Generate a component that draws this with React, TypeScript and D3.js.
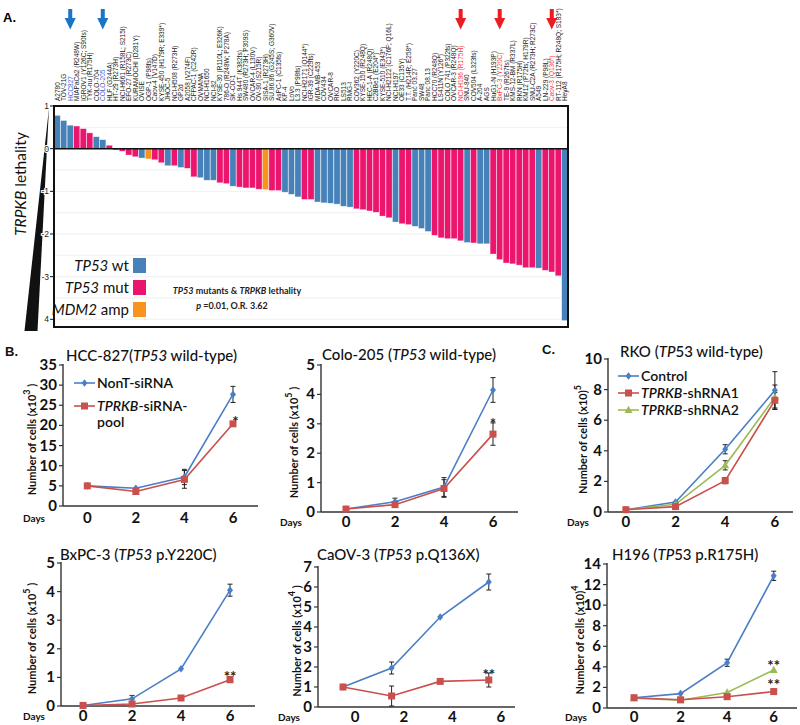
import React from 'react';
import * as d3 from 'd3';

// ---------- Panel A data ----------
const cellLines: string[] = [
  'A2780', 'TOV-21G', 'HCC827', 'MIAPaCa2 (R248W)', 'IGROV1 (Y126C; S90fs)', 'TYK-nu (R175H)', 'COLO-704', 'COLO-205',
  'HLF (G244A)', 'HT-29 (R273H)', 'NCI-H661 (R158L; S215I)', 'EFO-27 (R273C)', 'KURAMOCHI (D281Y)', 'OVISE', 'OGP-1 (P98fs)',
  'Caov-4 (V147D)', 'KYSE-450 (H179R; E339*)', 'JHOC-5', 'NCI-H508 (R273H)', 'GP2d', 'A2058 (V274F)', 'CFPAC-1 (C242R)',
  'OVMANA', 'NCI-H1650', 'NCI-82', 'KYSE-30 (R110L; E326K)', '786-O (R248W; P278A)', 'SK-CO-1', 'Hs 944T (K382fs)',
  'SW480 (R273H; P309S)', 'OVCAR-4 (L130V)', 'OV-90 (S215R)', 'SISA-1 (R273H)', 'SU.86.86 (G245S; G360V)', 'AsPC-1 (C135fs)',
  'KP-4', 'LoVo', 'L3.3 (P98fs)', 'NCI-H2171 (Q144*)', 'IGR-39 (C229fs)', 'MDA-MB-453', 'COV434', 'OVCAR-8', 'RKO', 'LS513',
  'RMG-I', 'COV362 (Y220C)', 'KYSE-150 (R248Q)', 'HEC-1-A (R248Q)', 'C2BBe1 (E204*)', 'KYSE-510 (E343*)',
  'NCI-H2122 (C176F; Q16L)', 'NCI-H197', 'OE33 (C135Y)', 'T.T. (H214R; E258*)', 'Panc 03.27', 'SW48', 'Panc 08.13',
  'HCC70 (R248Q)', 'LS411N (Y126*)', 'COLO 741 (P322fs)', 'OVCAR-3 (R248Q)', 'NCI-H196 (R175H)', 'SNU-840',
  'COV504 (L323fs)', 'A-204', 'AGS', 'HuG1-N (H193P)', 'BxPC-3 (Y220C)', 'TE-9 (R267fs)', 'KMS-12-BM (R337L)',
  'RKN (R175H)', 'KM12 (P72fs; H179R)', 'SNU-C2A (R273H; R273C)', 'A549', 'LN-229 (P98L)', 'Caov-3 (Q136*)',
  'RT-112 (R175H; R248Q; S183*)', 'HeyA8',
];

const lethality: number[] = [
  0.78, 0.66, 0.55, 0.53, 0.47, 0.37, 0.28, 0.21, 0.08,
  -0.03, -0.06, -0.15, -0.19, -0.22, -0.24, -0.26, -0.33, -0.40, -0.40, -0.44, -0.46,
  -0.66, -0.68, -0.74, -0.74, -0.80, -0.82, -0.88, -0.90, -0.92, -0.92, -0.95, -0.96, -0.98, -0.98,
  -1.02, -1.07, -1.13, -1.19, -1.19, -1.25, -1.27, -1.28, -1.30, -1.35, -1.37,
  -1.41, -1.43, -1.46, -1.49, -1.58, -1.62, -1.72,
  -1.76, -1.78, -1.82, -1.87, -1.94, -2.03, -2.09, -2.11, -2.11, -2.16, -2.20, -2.21, -2.23, -2.23,
  -2.47, -2.60, -2.68, -2.70, -2.73, -2.79, -2.79, -2.80, -2.85, -2.89, -2.98, -4.03,
];

// w = TP53 wt, m = TP53 mut, a = MDM2 amp
const tp53Status: string[] = [
  'w', 'w', 'w', 'm', 'm', 'm', 'w', 'w', 'm', 'm', 'm', 'm', 'm', 'w', 'a', 'm', 'm', 'w', 'm', 'w',
  'm', 'm', 'w', 'w', 'w', 'm', 'm', 'w', 'm', 'm', 'm', 'm', 'a', 'm', 'm', 'w', 'w', 'w', 'm', 'm',
  'w', 'w', 'w', 'w', 'w', 'w', 'm', 'm', 'm', 'm', 'm', 'm', 'w', 'm', 'm', 'w', 'w', 'w', 'm', 'm',
  'm', 'm', 'm', 'w', 'm', 'w', 'w', 'm', 'm', 'm', 'm', 'm', 'm', 'm', 'w', 'm', 'm', 'm', 'w',
];

const blueLabels = ['HCC827', 'COLO-205'];
const redLabels = ['NCI-H196 (R175H)', 'BxPC-3 (Y220C)', 'Caov-3 (Q136*)'];
const barTicks = [1, 0, -1, -2, -3, -4];
const barTickText = ['1', '0', '-1', '-2', '-3', '4'];

// ---------- Panels B / C data ----------
const days = [0, 2, 4, 6];

const hccNonT = [5.0, 4.4, 7.2, 27.7];
const hccNonTErr = [0.2, 0.6, 1.9, 2.0];
const hccSi = [5.0, 3.6, 6.6, 20.4];
const hccSiErr = [0.2, 0.3, 2.2, 0.5];

const coloNonT = [0.1, 0.35, 0.85, 4.15];
const coloNonTErr = [0.02, 0.12, 0.32, 0.42];
const coloSi = [0.1, 0.25, 0.8, 2.65];
const coloSiErr = [0.02, 0.05, 0.3, 0.38];

const rkoControl = [0.15, 0.65, 4.1, 7.95];
const rkoControlErr = [0.03, 0.08, 0.3, 1.22];
const rkoSh1 = [0.15, 0.35, 2.05, 7.3];
const rkoSh1Err = [0.03, 0.05, 0.2, 0.5];
const rkoSh2 = [0.15, 0.5, 3.05, 7.5];
const rkoSh2Err = [0.03, 0.05, 0.3, 0.8];

const bxNonT = [0.02, 0.25, 1.3, 4.05];
const bxNonTErr = [0.01, 0.12, 0.05, 0.21];
const bxSi = [0.02, 0.07, 0.28, 0.92];
const bxSiErr = [0.01, 0.02, 0.03, 0.1];

const caovNonT = [1.0, 1.95, 4.5, 6.25];
const caovNonTErr = [0.02, 0.3, 0.05, 0.4];
const caovSi = [1.0, 0.55, 1.28, 1.35];
const caovSiErr = [0.02, 0.5, 0.05, 0.35];

const h196Control = [1.0, 1.4, 4.4, 12.85];
const h196ControlErr = [0.05, 0.1, 0.35, 0.45];
const h196Sh1 = [1.0, 0.8, 1.1, 1.6];
const h196Sh1Err = [0.03, 0.03, 0.05, 0.08];
const h196Sh2 = [0.95, 0.75, 1.5, 3.7];
const h196Sh2Err = [0.03, 0.03, 0.08, 0.22];

const BLUE = '#4a7fc6';
const RED = '#c9504c';
const GREEN = '#9bbb59';
const BAR_BLUE = '#4682b9';
const BAR_PINK = '#ec156e';
const BAR_ORANGE = '#f7931e';

const LFONT = 'Lato, "Open Sans", sans-serif';
const AFONT = '"Liberation Sans", Arial, sans-serif';

type Seg = { t: string; i?: boolean };
type Series = { values: number[]; errors: number[]; color: string; marker: 'diamond' | 'square' | 'triangle' };
type Star = { day: number; value: number; text: string };
type PanelCfg = {
  title: Seg[]; titleX: number; titleY: number;
  x0: number; x1: number; xDomain: [number, number]; tickShift: number;
  yBase: number; yTop: number; yMax: number; yStep: number;
  series: Series[]; stars: Star[];
  exp: string; expAfter: boolean; ylabX: number;
  daysX: number; tickLabelY: number;
};

function Arrow({ cx, color }: { cx: number; color: string }) {
  return (
    <g fill={color}>
      <rect x={cx - 2} y={9} width={4} height={11} />
      <polygon points={`${cx - 5.5},18 ${cx + 5.5},18 ${cx},29.5`} />
    </g>
  );
}

function BarPanel() {
  const x = d3.scaleBand<string>().domain(cellLines).range([54, 568]).paddingInner(0.05).paddingOuter(0.02);
  const y = d3.scaleLinear().domain([-4.18, 1]).range([327, 106]);
  const color = (s: string) => (s === 'w' ? BAR_BLUE : s === 'm' ? BAR_PINK : BAR_ORANGE);
  const grid = d3.range(-4, 1.01, 0.5);
  const cx = (n: string) => (x(n) as number) + x.bandwidth() / 2;
  return (
    <g>
      <text x={3} y={22} fontFamily={AFONT} fontWeight="bold" fontSize={13}>A.</text>
      <Arrow cx={cx('HCC827')} color="#1b75c4" />
      <Arrow cx={cx('COLO-205')} color="#1b75c4" />
      <Arrow cx={cx('NCI-H196 (R175H)')} color="#ea1c24" />
      <Arrow cx={cx('BxPC-3 (Y220C)')} color="#ea1c24" />
      <Arrow cx={cx('Caov-3 (Q136*)')} color="#ea1c24" />
      {cellLines.map((n) => (
        <text key={n} transform={`translate(${cx(n) + 2.3},101) rotate(-90)`} fontFamily={AFONT} fontSize={6.5}
          fill={blueLabels.includes(n) ? '#3b5fd6' : redLabels.includes(n) ? '#ff3a3a' : '#1a1a1a'}>{n}</text>
      ))}
      {grid.map((g) => (
        <line key={g} x1={55} x2={567} y1={y(g)} y2={y(g)} stroke="#ececec" strokeWidth={0.8} />
      ))}
      {cellLines.map((n, i) => {
        const v = lethality[i];
        return (
          <rect key={n} x={x(n)} width={x.bandwidth()} y={Math.min(y(v), y(0))} height={Math.abs(y(v) - y(0))}
            fill={color(tp53Status[i])} stroke="rgba(255,255,255,0.55)" strokeWidth={0.6} />
        );
      })}
      <line x1={54} x2={568} y1={y(0)} y2={y(0)} stroke="#111" strokeWidth={1.5} />
      <rect x={54} y={106} width={514} height={221} fill="none" stroke="#111" strokeWidth={2} />
      <polygon points="49,108 37.5,331 24.5,331" fill="#111" />
      {barTicks.map((t, i) => (
        <g key={t}>
          <line x1={50} x2={54} y1={y(t)} y2={y(t)} stroke="#111" strokeWidth={1} />
          <text x={49} y={y(t) + 3} textAnchor="end" fontFamily={AFONT} fontSize={8.5} fill="#222"
            stroke="#fff" strokeWidth={2} paintOrder="stroke">{barTickText[i]}</text>
        </g>
      ))}
      <text transform="translate(26,184) rotate(-90)" textAnchor="middle" fontFamily={LFONT} fontSize={15.5} fill="#111">
        <tspan fontStyle="italic">TRPKB</tspan> lethality
      </text>
      {/* legend */}
      {[
        { k: 'w', a: 'TP53', b: ' wt', y: 258 },
        { k: 'm', a: 'TP53', b: ' mut', y: 280 },
        { k: 'a', a: 'MDM2', b: ' amp', y: 302 },
      ].map((l) => (
        <g key={l.k}>
          <rect x={133} y={l.y} width={13} height={15} fill={color(l.k)} />
          <text x={129} y={l.y + 12.5} textAnchor="end" fontFamily={LFONT} fontSize={15} fill="#111">
            <tspan fontStyle="italic">{l.a}</tspan>{l.b}
          </text>
        </g>
      ))}
      <text x={237} y={294} textAnchor="middle" fontFamily={LFONT} fontSize={9} fontWeight={700} fill="#222">
        <tspan fontStyle="italic">TP53</tspan> mutants &amp; <tspan fontStyle="italic">TRPKB</tspan> lethality
      </text>
      <text x={232} y={309} textAnchor="middle" fontFamily={LFONT} fontSize={9} fontWeight={700} fill="#222">
        <tspan fontStyle="italic">p</tspan> =0.01, O.R. 3.62
      </text>
    </g>
  );
}

function Marker({ type, x, y, color }: { type: string; x: number; y: number; color: string }) {
  if (type === 'square') return <rect x={x - 3.5} y={y - 3.5} width={7} height={7} fill={color} />;
  if (type === 'triangle') return <path d={`M${x},${y - 4.2}L${x + 4},${y + 3}L${x - 4},${y + 3}Z`} fill={color} />;
  return <path d={`M${x},${y - 3.8}L${x + 3},${y}L${x},${y + 3.8}L${x - 3},${y}Z`} fill={color} />;
}

function LinePanel({ c }: { c: PanelCfg }) {
  const x = d3.scaleLinear().domain(c.xDomain).range([c.x0, c.x1]);
  const y = d3.scaleLinear().domain([0, c.yMax]).range([c.yBase, c.yTop]);
  const line = d3.line<number>().x((_, i) => x(days[i])).y((d) => y(d));
  const yTicks = d3.range(0, c.yMax + 0.001, c.yStep);
  const ylabY = (c.yBase + c.yTop) / 2 + 4;
  return (
    <g fontFamily={LFONT}>
      <text x={c.titleX} y={c.titleY} fontSize={15} fill="#111" fontWeight={500}>
        {c.title.map((s, i) => (
          <tspan key={i} fontStyle={s.i ? 'italic' : 'normal'}>{s.t}</tspan>
        ))}
      </text>
      {/* axes */}
      <line x1={c.x0} x2={c.x0} y1={c.yTop - 1} y2={c.yBase} stroke="#333" strokeWidth={1.4} />
      <line x1={c.x0} x2={c.x1} y1={c.yBase} y2={c.yBase} stroke="#333" strokeWidth={1.4} />
      {yTicks.map((t) => (
        <g key={t}>
          <line x1={c.x0 - 4} x2={c.x0} y1={y(t)} y2={y(t)} stroke="#333" strokeWidth={1.2} />
          <text x={c.x0 - 6} y={y(t) + 5} textAnchor="end" fontSize={15} fontWeight={700} fill="#111">{t}</text>
        </g>
      ))}
      {days.map((d) => (
        <text key={d} x={x(d + c.tickShift)} y={c.tickLabelY} textAnchor="middle" fontSize={15} fontWeight={700} fill="#111">{d}</text>
      ))}
      <text x={c.daysX} y={c.tickLabelY - 1} fontSize={10} fontWeight={700} fill="#111">Days</text>
      <text transform={`translate(${c.ylabX},${ylabY}) rotate(-90)`} textAnchor="middle" fontSize={11} fontWeight={700} fill="#111">
        {c.expAfter ? (
          <>
            Number of cells (x10)<tspan dy={-6} fontSize={9}>{c.exp}</tspan>
          </>
        ) : (
          <>
            Number of cells (x10<tspan dy={-6} fontSize={9}>{c.exp}</tspan><tspan dy={6}> )</tspan>
          </>
        )}
      </text>
      {/* error bars */}
      {c.series.map((s, si) =>
        s.values.map((v, i) => {
          const e = s.errors[i];
          if (Math.abs(y(v + e) - y(v)) < 2.5) return null;
          const px = x(days[i]);
          return (
            <g key={`${si}-${i}`} stroke="#222" strokeWidth={1}>
              <line x1={px} x2={px} y1={y(v - e)} y2={y(v + e)} />
              <line x1={px - 2.5} x2={px + 2.5} y1={y(v - e)} y2={y(v - e)} />
              <line x1={px - 2.5} x2={px + 2.5} y1={y(v + e)} y2={y(v + e)} />
            </g>
          );
        })
      )}
      {c.series.map((s, si) => (
        <path key={si} d={line(s.values) || ''} fill="none" stroke={s.color} strokeWidth={1.6} />
      ))}
      {c.series.map((s, si) =>
        s.values.map((v, i) => <Marker key={`${si}-${i}`} type={s.marker} x={x(days[i])} y={y(v)} color={s.color} />)
      )}
      {c.stars.map((st, i) => (
        <text key={i} x={x(st.day)} y={y(st.value) + 8} textAnchor="middle" fontSize={15} fontWeight={700} fill="#222">{st.text}</text>
      ))}
    </g>
  );
}

function Legend({ x, items }: { x: number; items: { y: number; color: string; marker: string; label: Seg[]; extra?: string }[] }) {
  return (
    <g fontFamily={LFONT}>
      {items.map((it, i) => (
        <g key={i}>
          <line x1={x} x2={x + 21} y1={it.y} y2={it.y} stroke={it.color} strokeWidth={1.6} />
          <Marker type={it.marker} x={x + 10.5} y={it.y} color={it.color} />
          <text x={x + 23} y={it.y + 5} fontSize={14} fontWeight={600} fill="#111">
            {it.label.map((s, j) => (
              <tspan key={j} fontStyle={s.i ? 'italic' : 'normal'}>{s.t}</tspan>
            ))}
          </text>
          {it.extra && (
            <text x={x + 23} y={it.y + 21} fontSize={14} fontWeight={600} fill="#111">{it.extra}</text>
          )}
        </g>
      ))}
    </g>
  );
}

const panels: PanelCfg[] = [
  {
    title: [{ t: 'HCC-827(' }, { t: 'TP53', i: true }, { t: ' wild-type)' }], titleX: 66, titleY: 361,
    x0: 63, x1: 258, xDomain: [-1, 7.03], tickShift: 0, yBase: 506, yTop: 365, yMax: 35, yStep: 5,
    series: [
      { values: hccNonT, errors: hccNonTErr, color: BLUE, marker: 'diamond' },
      { values: hccSi, errors: hccSiErr, color: RED, marker: 'square' },
    ],
    stars: [{ day: 6.1, value: 21.6, text: '*' }], exp: '3', expAfter: false, ylabX: 36, daysX: 23, tickLabelY: 523,
  },
  {
    title: [{ t: 'Colo-205 (' }, { t: 'TP53', i: true }, { t: ' wild-type)' }], titleX: 322, titleY: 360,
    x0: 321, x1: 518, xDomain: [-1.02, 7.02], tickShift: 0, yBase: 512, yTop: 365, yMax: 5, yStep: 1,
    series: [
      { values: coloNonT, errors: coloNonTErr, color: BLUE, marker: 'diamond' },
      { values: coloSi, errors: coloSiErr, color: RED, marker: 'square' },
    ],
    stars: [{ day: 6, value: 3.1, text: '*' }], exp: '5', expAfter: false, ylabX: 298, daysX: 280, tickLabelY: 527,
  },
  {
    title: [{ t: 'RKO (' }, { t: 'TP', i: true }, { t: '53 wild-type)' }], titleX: 620, titleY: 357,
    x0: 608, x1: 793, xDomain: [-0.72, 6.73], tickShift: 0, yBase: 512, yTop: 359, yMax: 10, yStep: 2,
    series: [
      { values: rkoControl, errors: rkoControlErr, color: BLUE, marker: 'diamond' },
      { values: rkoSh2, errors: rkoSh2Err, color: GREEN, marker: 'triangle' },
      { values: rkoSh1, errors: rkoSh1Err, color: RED, marker: 'square' },
    ],
    stars: [], exp: '5', expAfter: true, ylabX: 587, daysX: 567, tickLabelY: 527,
  },
  {
    title: [{ t: 'BxPC-3 (' }, { t: 'TP53', i: true }, { t: ' p.Y220C)' }], titleX: 60, titleY: 560,
    x0: 61, x1: 255, xDomain: [-0.9, 7.02], tickShift: 0, yBase: 706, yTop: 563, yMax: 5, yStep: 1,
    series: [
      { values: bxNonT, errors: bxNonTErr, color: BLUE, marker: 'diamond' },
      { values: bxSi, errors: bxSiErr, color: RED, marker: 'square' },
    ],
    stars: [{ day: 6, value: 1.12, text: '**' }], exp: '5', expAfter: false, ylabX: 36, daysX: 23, tickLabelY: 721,
  },
  {
    title: [{ t: 'CaOV-3 (' }, { t: 'TP53', i: true }, { t: ' p.Q136X)' }], titleX: 317, titleY: 560,
    x0: 318, x1: 515, xDomain: [-1.03, 7.08], tickShift: 0.5, yBase: 707, yTop: 567, yMax: 7, yStep: 1,
    series: [
      { values: caovNonT, errors: caovNonTErr, color: BLUE, marker: 'diamond' },
      { values: caovSi, errors: caovSiErr, color: RED, marker: 'square' },
    ],
    stars: [{ day: 6, value: 1.75, text: '**' }], exp: '4', expAfter: false, ylabX: 301, daysX: 278, tickLabelY: 722,
  },
  {
    title: [{ t: 'H196 (' }, { t: 'TP', i: true }, { t: '53 p.R175H)' }], titleX: 612, titleY: 560,
    x0: 607, x1: 797, xDomain: [-1.16, 7.0], tickShift: 0, yBase: 708, yTop: 564, yMax: 14, yStep: 2,
    series: [
      { values: h196Control, errors: h196ControlErr, color: BLUE, marker: 'diamond' },
      { values: h196Sh2, errors: h196Sh2Err, color: GREEN, marker: 'triangle' },
      { values: h196Sh1, errors: h196Sh1Err, color: RED, marker: 'square' },
    ],
    stars: [{ day: 6, value: 4.4, text: '**' }, { day: 6, value: 2.5, text: '**' }], exp: '4', expAfter: true, ylabX: 584, daysX: 565, tickLabelY: 722,
  },
];

export default function App() {
  return (
    <svg width={800} height={725} viewBox="0 0 800 725" style={{ position: 'absolute', left: 0, top: 0, background: '#fff' }}>
      <rect width={800} height={725} fill="#fff" />
      <BarPanel />
      <text x={5} y={356} fontFamily={AFONT} fontWeight="bold" fontSize={13} fill="#111">B.</text>
      <text x={542} y={354} fontFamily={AFONT} fontWeight="bold" fontSize={13} fill="#111">C.</text>
      {panels.map((p, i) => <LinePanel key={i} c={p} />)}
      <Legend x={74} items={[
        { y: 383, color: BLUE, marker: 'diamond', label: [{ t: 'NonT-siRNA' }] },
        { y: 406, color: RED, marker: 'square', label: [{ t: 'TPRKB', i: true }, { t: '-siRNA-' }], extra: 'pool' },
      ]} />
      <Legend x={618} items={[
        { y: 376, color: BLUE, marker: 'diamond', label: [{ t: 'Control' }] },
        { y: 393, color: RED, marker: 'square', label: [{ t: 'TPRKB', i: true }, { t: '-shRNA1' }] },
        { y: 410, color: GREEN, marker: 'triangle', label: [{ t: 'TPRKB', i: true }, { t: '-shRNA2' }] },
      ]} />
    </svg>
  );
}
